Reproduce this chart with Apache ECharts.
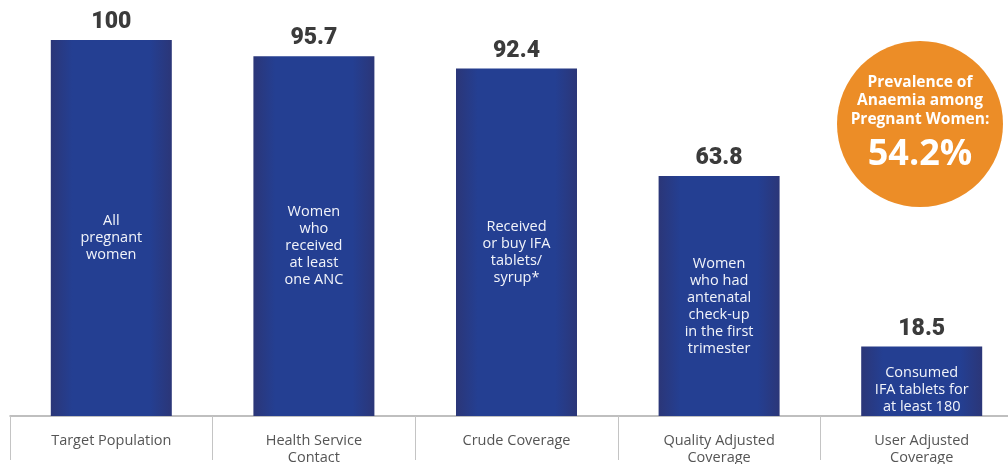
<!DOCTYPE html>
<html>
<head>
<meta charset="utf-8">
<script src="https://cdn.jsdelivr.net/npm/echarts@6/dist/echarts.min.js"></script>
<style>
html, body { margin: 0; padding: 0; background: #fff; }
#main { width: 1008px; height: 464px; }
</style>
</head>
<body>
<div id="main"></div>
<script>
var categories = ['Target Population', 'Health Service\nContact', 'Crude Coverage', 'Quality Adjusted\nCoverage', 'User Adjusted\nCoverage'];
var coverage = [100, 95.7, 92.4, 63.8, 18.5];
var barNotes = [
    'All\npregnant\nwomen',
    'Women\nwho\nreceived\nat least\none ANC',
    'Received\nor buy IFA\ntablets/\nsyrup*',
    'Women\nwho had\nantenatal\ncheck-up\nin the first\ntrimester',
    'Consumed\nIFA tablets for\nat least 180\ndays'
];
var badgeTitle = 'Prevalence of\nAnaemia among\nPregnant Women:';
var badgeValue = '54.2%';

var chart = echarts.init(document.getElementById('main'));

var barColor = new echarts.graphic.LinearGradient(0, 0, 1, 0, [
    { offset: 0, color: '#2b3678' },
    { offset: 0.18, color: '#243f92' },
    { offset: 0.82, color: '#243f92' },
    { offset: 1, color: '#2b3678' }
]);

chart.setOption({
    animation: false,
    grid: {
        left: 10,
        top: 40,
        width: 1013,
        height: 376,
        outerBoundsMode: 'none',
        containLabel: false
    },
    xAxis: {
        type: 'category',
        data: categories,
        axisLine: { lineStyle: { color: '#aaaaaa', width: 1.5 } },
        axisTick: { show: true, length: 44, lineStyle: { color: '#c4c4c4' } },
        axisLabel: {
            margin: 16,
            fontFamily: 'Open Sans',
            fontSize: 14.5,
            lineHeight: 17,
            color: '#555555'
        }
    },
    yAxis: {
        type: 'value',
        min: 0,
        max: 100,
        show: false
    },
    series: [{
        type: 'bar',
        barWidth: 121,
        data: coverage,
        itemStyle: { color: barColor },
        label: {
            show: true,
            position: 'top',
            distance: 6,
            fontFamily: 'Roboto',
            fontWeight: 900,
            fontSize: 23,
            color: '#3b3b3b'
        }
    }, {
        type: 'bar',
        barWidth: 121,
        barGap: '-100%',
        z: 3,
        data: coverage.map(function(v, i) {
            var item = { value: v };
            if (i == coverage.length - 1) {
                item.label = { height: 51, lineOverflow: 'truncate', offset: [0, 9] };
            }
            return item;
        }),
        itemStyle: { color: 'rgba(0,0,0,0)' },
        label: {
            show: true,
            position: 'inside',
            offset: [0, 10],
            formatter: function(p) {
                return barNotes[p.dataIndex];
            },
            fontFamily: 'Open Sans',
            fontSize: 14.5,
            lineHeight: 17,
            color: '#f2f4fa'
        }
    }],
    graphic: [{
        type: 'circle',
        shape: { cx: 920, cy: 124, r: 83 },
        style: { fill: '#ec8d27' }
    }, {
        type: 'text',
        x: 920,
        y: 101,
        style: {
            text: badgeTitle,
            fill: '#ffffff',
            font: 'bold 15.5px "Open Sans"',
            lineHeight: 18.5,
            align: 'center',
            verticalAlign: 'middle'
        }
    }, {
        type: 'text',
        x: 920,
        y: 155,
        style: {
            text: badgeValue,
            fill: '#ffffff',
            font: 'bold 36px "Open Sans"',
            align: 'center',
            verticalAlign: 'middle'
        }
    }]
});
</script>
</body>
</html>
